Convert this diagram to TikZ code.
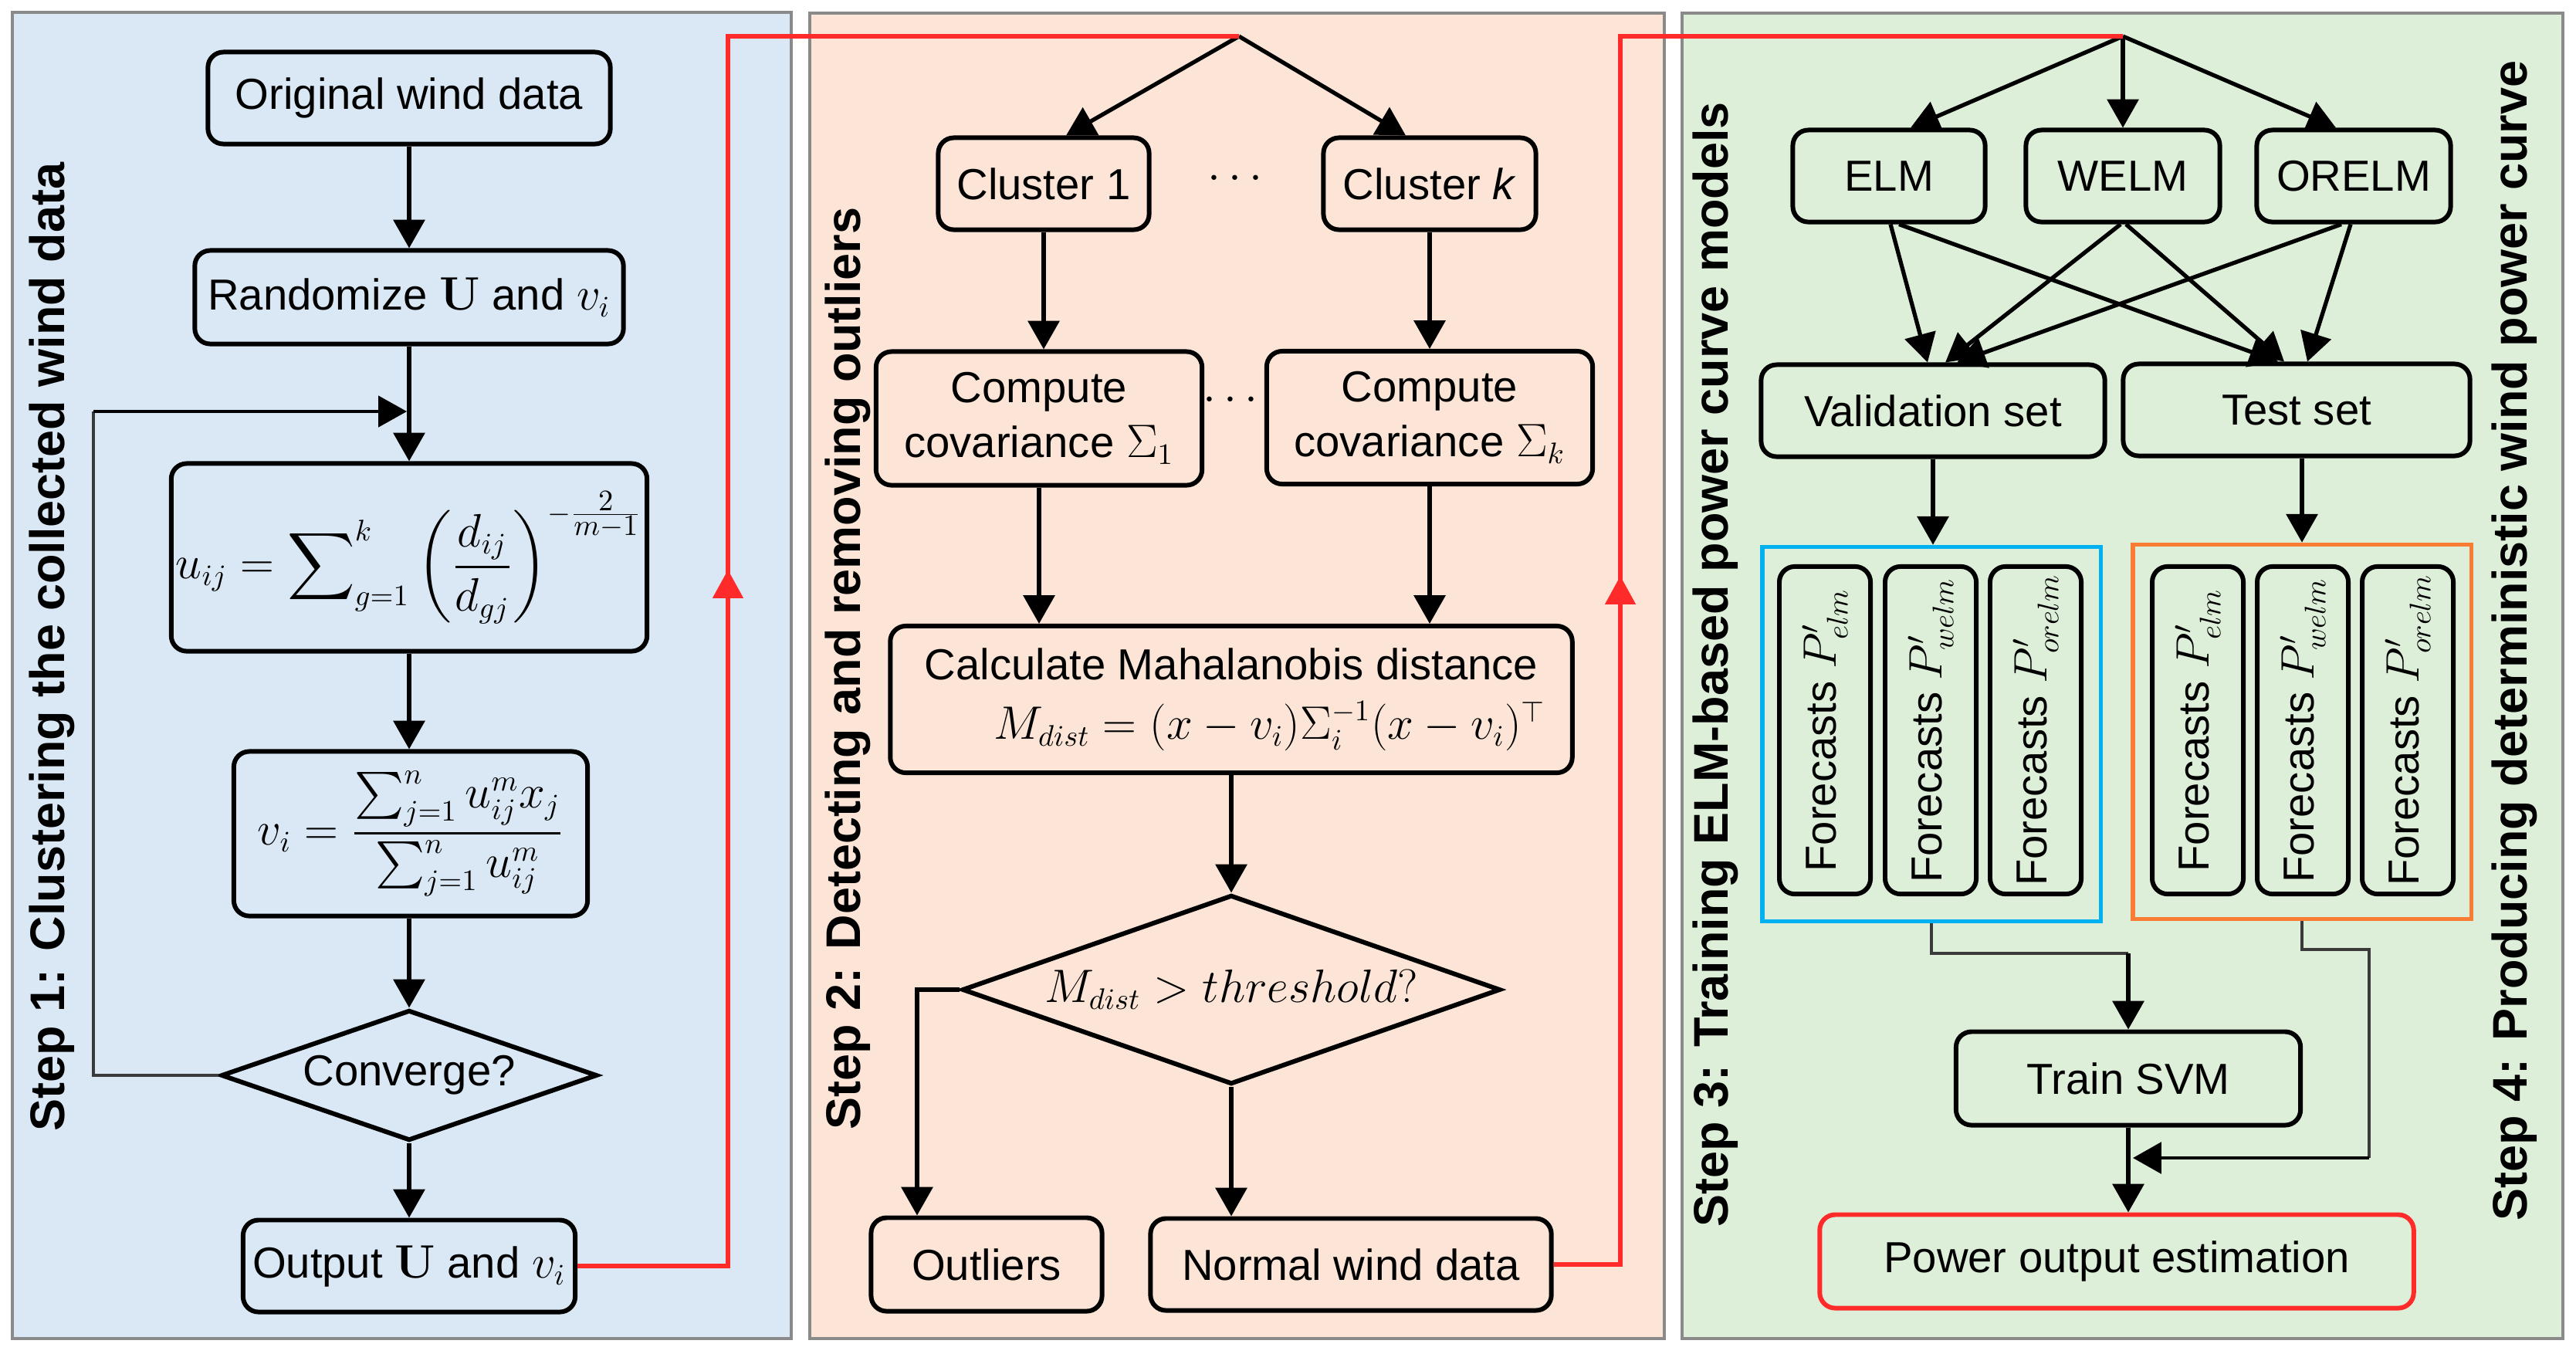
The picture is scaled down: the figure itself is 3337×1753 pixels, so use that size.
\documentclass[tikz,border=0pt]{standalone}
\usepackage[no-math]{fontspec}
\setmainfont{Liberation Sans}
\usepackage{amsmath}
\usetikzlibrary{arrows.meta,shapes.geometric,calc}
\definecolor{pone}{HTML}{DAE8F5}
\definecolor{ptwo}{HTML}{FCE5D7}
\definecolor{pthree}{HTML}{DDEFD9}
\definecolor{pborder}{HTML}{8A8A8A}
\definecolor{redline}{HTML}{FF2A2A}
\definecolor{cyanbox}{HTML}{00B0F0}
\definecolor{orangebox}{HTML}{F97C34}
\definecolor{thingray}{HTML}{3A3A3A}
\begin{document}
\begin{tikzpicture}[x=0.01cm,y=-0.01cm,
  panel/.style={draw=pborder,line width=1pt},
  box/.style={draw,line width=1.7pt,rounded corners=0.2cm,align=center,inner sep=0pt,
    font=\fontsize{16}{20}\selectfont},
  dia/.style={draw,line width=1.7pt,diamond,inner sep=0pt,font=\fontsize{16}{20}\selectfont},
  fbox/.style={draw,line width=1.7pt,rounded corners=0.2cm,inner sep=0pt,
    minimum width=4.24cm,minimum height=1.18cm,rotate=90,font=\fontsize{16}{20}\selectfont},
  arr/.style={line width=1.5pt,-{Triangle[length=10.5pt,width=11.5pt]}},
  thinline/.style={line width=0.9pt,draw=thingray},
  rline/.style={line width=1.7pt,draw=redline},
  rarr/.style={line width=1.7pt,draw=redline,fill=redline,-{Triangle[length=10.5pt,width=11pt]}},
  steplabel/.style={rotate=90,font=\bfseries\fontsize{17.9}{22}\selectfont}]
\useasboundingbox (0,0) rectangle (3337,1753);

% panels
\draw[panel,fill=pone] (16,16) rectangle (1025,1734);
\draw[panel,fill=ptwo] (1049,17) rectangle (2156,1734);
\draw[panel,fill=pthree] (2179,17) rectangle (3320,1734);

% step labels
\node[steplabel] (s1) at (67,838) {Step 1: Clustering the collected wind data};
\node[steplabel] (s2) at (1098,866) {Step 2: Detecting and removing outliers};
\node[steplabel] (s3) at (2222,861) {Step 3: Training ELM-based power curve models};
\node[steplabel] (s4) at (3257,830) {Step 4: Producing deterministic wind power curve};

% ---------- panel 1
\node[box,minimum width=5.21cm,minimum height=1.19cm] (orig) at (530,127) {Original wind data};
\node[box,minimum width=5.55cm,minimum height=1.21cm] (rand) at (530,385) {Randomize $\mathbf{U}$ and $v_i$};
\node[box,minimum width=6.16cm,minimum height=2.43cm] (uij) at (530,722)
  {$\displaystyle u_{ij}=\sum\nolimits_{g=1}^{k}\left(\frac{d_{ij}}{d_{gj}}\right)^{-\frac{\scriptstyle 2}{\scriptstyle m-1}}$};
\node[box,minimum width=4.58cm,minimum height=2.13cm] (vi) at (532,1080)
  {$\displaystyle v_i=\frac{\sum\nolimits_{j=1}^{n}u_{ij}^{m}x_j}{\sum\nolimits_{j=1}^{n}u_{ij}^{m}}$};
\node[dia,shape aspect=2.88,minimum width=4.87cm,minimum height=1.69cm] (conv) at (530,1393) {Converge?};
\node[box,minimum width=4.30cm,minimum height=1.19cm] (out) at (530,1640) {Output $\mathbf{U}$ and $v_i$};

\draw[arr] (orig) -- (rand);
\draw[arr] (rand) -- (uij);
\draw[arr] (uij) -- (vi.north -| uij.south);
\draw[arr] (vi.south -| conv.north) -- (conv.north);
\draw[arr] (conv) -- (out);
\coordinate (loopa) at (121,533);
\coordinate (loopb) at (527,533);
\draw[thinline] (conv.west) -| (loopa);
\draw[arr,line width=0.9pt] (loopa) -- (loopb);

% ---------- panel 2
\coordinate (b2) at (1605,47);
\node[box,minimum width=2.73cm,minimum height=1.19cm] (c1) at (1352,238) {Cluster 1};
\node[box,minimum width=2.75cm,minimum height=1.19cm] (ck) at (1852,238) {Cluster \textit{k}};
\node[font=\fontsize{16}{20}\selectfont] (d1) at (1605,232) {$\cdots$};
\node[box,minimum width=4.22cm,minimum height=1.73cm] (cov1) at (1346,542) {Compute\\covariance $\Sigma_1$};
\node[box,minimum width=4.22cm,minimum height=1.72cm] (covk) at (1852,541) {Compute\\covariance $\Sigma_k$};
\node[font=\fontsize{16}{20}\selectfont] (d2) at (1599,519) {$\cdots$};
\node[box,minimum width=8.83cm,minimum height=1.90cm] (calc) at (1595,906)
  {Calculate Mahalanobis distance\\[2pt]
   \hspace*{1.0cm}$M_{dist}=(x-v_i)\Sigma_i^{-1}(x-v_i)^{\top}$};
\node[dia,shape aspect=2.84,minimum width=6.97cm,minimum height=2.45cm] (thr) at (1595,1282) {$M_{dist}>threshold?$};
\node[box,minimum width=2.99cm,minimum height=1.21cm] (outl) at (1278,1638) {Outliers};
\node[box,minimum width=5.19cm,minimum height=1.19cm] (norm) at (1750,1638) {Normal wind data};

\draw[arr] (b2) -- ($(c1.north)+(29,0)$);
\draw[arr] (b2) -- ($(ck.north)+(-31,0)$);
\draw[arr] (c1.south) -- (c1.south |- cov1.north);
\draw[arr] (ck) -- (covk);
\draw[arr] (cov1.south) -- (cov1.south |- calc.north);
\draw[arr] (covk.south) -- (covk.south |- calc.north);
\draw[arr] (calc.south) -- (thr.north);
\draw[arr] (thr.west) -| ($(outl.north)+(-90,0)$);
\draw[arr] (thr.south) -- (thr.south |- norm.north);

% red connector 1 -> 2
\coordinate (r1) at (943,47);
\coordinate (r1a) at (943,790);
\coordinate (r1b) at (943,738);
\draw[rline] (out.east) -| (r1) -- (b2);
\draw[rarr] (r1a) -- (r1b);

% ---------- panel 3
\coordinate (b3) at (2750,47);
\node[box,minimum width=2.49cm,minimum height=1.19cm] (elm) at (2447,228) {ELM};
\node[box,minimum width=2.51cm,minimum height=1.19cm] (welm) at (2750,228) {WELM};
\node[box,minimum width=2.51cm,minimum height=1.19cm] (orelm) at (3049,228) {ORELM};
\node[box,minimum width=4.45cm,minimum height=1.19cm] (val) at (2504,532) {Validation set};
\node[box,minimum width=4.49cm,minimum height=1.19cm] (test) at (2975,531) {Test set};

\draw[arr] (b3) -- ($(elm.north)+(28,0)$);
\draw[arr] (b3) -- (welm);
\draw[arr] (b3) -- ($(orelm.north)+(-23,0)$);

\draw[arr] ($(elm.south)+(2,0)$) -- ($(val.north)+(-7,0)$);
\draw[arr] ($(elm.south)+(13,0)$) -- ($(test.north)+(-24,0)$);
\draw[arr] ($(welm.south)+(-3,0)$) -- ($(val.north)+(16,0)$);
\draw[arr] ($(welm.south)+(4,0)$) -- ($(test.north)+(-16,0)$);
\draw[arr] ($(orelm.south)+(-16,0)$) -- ($(val.north)+(31,0)$);
\draw[arr] ($(orelm.south)+(-4,0)$) -- ($(test.north)+(14,0)$);

% grouping boxes
\node[draw=cyanbox,line width=1.5pt,minimum width=4.38cm,minimum height=4.85cm,inner sep=0pt] (bluebox) at (2502,951) {};
\node[draw=orangebox,line width=1.5pt,minimum width=4.38cm,minimum height=4.85cm,inner sep=0pt] (orangeb) at (2982,948) {};

\node[fbox] (f1) at (2364,946) {Forecasts $P'_{elm}$};
\node[fbox] (f2) at (2501,946) {Forecasts $P'_{welm}$};
\node[fbox] (f3) at (2637,946) {Forecasts $P'_{orelm}$};
\node[fbox] (f4) at (2847,946) {Forecasts $P'_{elm}$};
\node[fbox] (f5) at (2983,946) {Forecasts $P'_{welm}$};
\node[fbox] (f6) at (3119,946) {Forecasts $P'_{orelm}$};

\draw[arr] (val.south) -- (val.south |- bluebox.north);
\draw[arr] (orangeb.north |- test.south) -- (orangeb.north);

\node[box,minimum width=4.46cm,minimum height=1.21cm] (svm) at (2757,1397) {Train SVM};
\node[box,draw=redline,minimum width=7.69cm,minimum height=1.21cm] (pow) at (2742,1634) {Power output estimation};

\coordinate (cb) at (svm.north |- 0,1235);
\draw[thinline] (bluebox.south) |- (cb);
\draw[arr] (cb) -- (svm.north);
\coordinate (co1) at (3069,1230);
\coordinate (co2) at (3069,1500);
\coordinate (co3) at ($(svm.south |- co2)+(6,0)$);
\draw[thinline] (orangeb.south) |- (co1) -- (co2);
\draw[arr,line width=1.3pt] (co2) -- (co3);
\draw[arr] (svm.south) -- (svm.south |- pow.north);

% red connector 2 -> 3
\coordinate (r2) at (2099,47);
\coordinate (r2a) at (2099,796);
\coordinate (r2b) at (2099,746);
\draw[rline] (norm.east) -| (r2) -- (b3);
\draw[rarr] (r2a) -- (r2b);
\end{tikzpicture}
\end{document}
